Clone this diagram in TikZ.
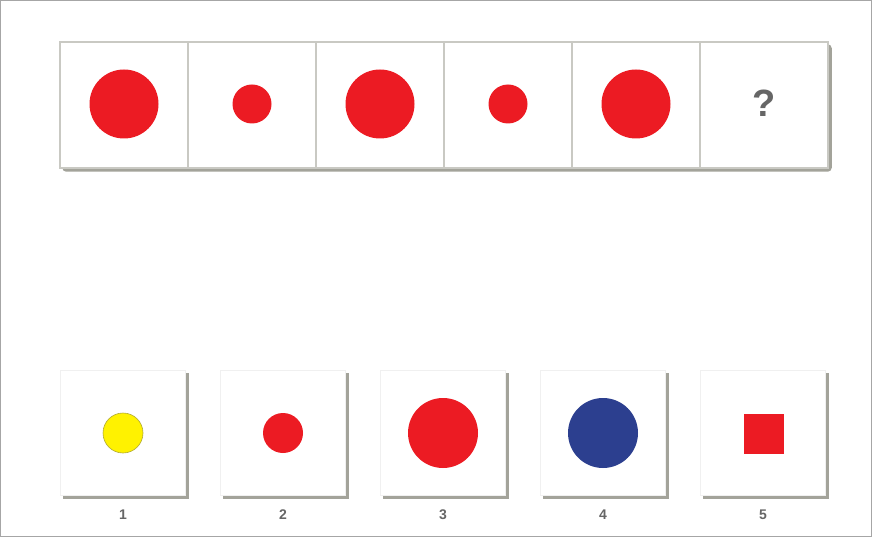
\documentclass[tikz,border=0pt]{standalone}
\usepackage{fontspec}
\setmainfont{Liberation Sans}
\usetikzlibrary{positioning,calc,backgrounds}
\definecolor{dotred}{HTML}{EC1B23}
\definecolor{dotblue}{HTML}{2C3F8F}
\definecolor{dotyellow}{HTML}{FFF200}
\definecolor{rimgray}{HTML}{C9C9C3}
\definecolor{shadowgray}{HTML}{A3A39A}
\definecolor{markgray}{HTML}{666666}

\tikzset{
  cell/.style={draw=rimgray, line width=1.5pt, fill=white, minimum width=128pt,
               minimum height=126pt, inner sep=0pt},
  choice/.style={draw=gray!12, fill=white, minimum size=125pt, inner sep=0pt},
  dot/.style={circle, fill=dotred, inner sep=0pt},
  numlabel/.style={text=markgray, font=\bfseries\fontsize{14}{14}\selectfont, inner sep=0pt}
}

\begin{document}
\begin{tikzpicture}[x=1pt,y=-1pt]
  \useasboundingbox (0,0) rectangle (872,537);
  \begin{scope}[on background layer]
    \fill[white] (0,0) rectangle (872,537);
  \end{scope}
  \draw[gray!70, line width=0.8pt] (0.4,0.4) rectangle (871.6,536.6);

  % sequence row
  \foreach \i in {1,...,6}
    \node[cell] (t\i) at ({124+128*(\i-1)},105) {};
  \begin{scope}[on background layer]
    \fill[shadowgray, rounded corners=4pt] ($(t1.north west)+(3,3)$) rectangle ($(t6.south east)+(3,3)$);
  \end{scope}
  \foreach \i/\s in {1/69pt,2/39pt,3/69pt,4/39pt,5/69pt}
    \node[dot, minimum size=\s] (s\i) at ($(t\i)+(0,-1)$) {};
  \node[text=markgray, font=\bfseries\fontsize{38}{38}\selectfont] (q) at ($(t6)+(0,-2)$) {?};

  % answer choices
  \foreach \i in {1,...,5}
    \node[choice] (b\i) at ({123+160*(\i-1)},433) {};
  \begin{scope}[on background layer]
    \foreach \i in {1,...,5}
      \fill[shadowgray] ($(b\i.north west)+(3,3)$) rectangle ($(b\i.south east)+(3,3)$);
  \end{scope}
  \node[circle, fill=dotyellow, draw=olive!70, line width=0.6pt, minimum size=40pt, inner sep=0pt] (a1) at (b1) {};
  \node[dot, minimum size=40pt] (a2) at (b2) {};
  \node[dot, minimum size=70pt] (a3) at (b3) {};
  \node[dot, fill=dotblue, minimum size=70pt] (a4) at (b4) {};
  \node[fill=dotred, minimum size=40pt, inner sep=0pt] (a5) at ($(b5)+(1,1)$) {};
  \foreach \i in {1,...,5}
    \node[numlabel, below=14pt of b\i] (n\i) {\i};
\end{tikzpicture}
\end{document}
